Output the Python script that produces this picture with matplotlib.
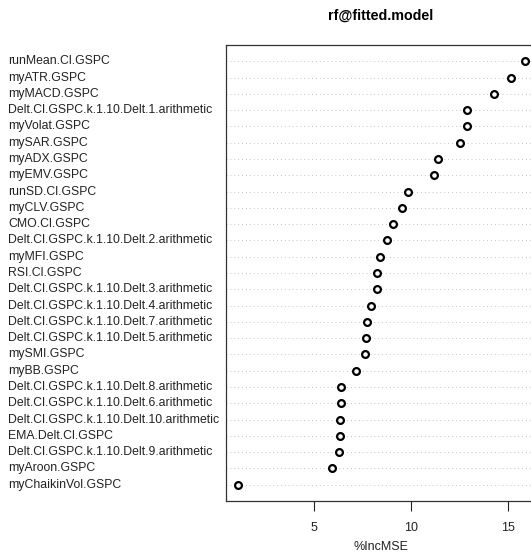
import numpy as np
import matplotlib.pyplot as plt
import matplotlib.transforms as mtransforms

plt.rcParams['font.family'] = ['Liberation Sans', 'DejaVu Sans']

# variables, ordered from most to least important (top to bottom)
variables = [
    'runMean.Cl.GSPC', 'myATR.GSPC', 'myMACD.GSPC',
    'Delt.Cl.GSPC.k.1.10.Delt.1.arithmetic', 'myVolat.GSPC', 'mySAR.GSPC',
    'myADX.GSPC', 'myEMV.GSPC', 'runSD.Cl.GSPC', 'myCLV.GSPC', 'CMO.Cl.GSPC',
    'Delt.Cl.GSPC.k.1.10.Delt.2.arithmetic', 'myMFI.GSPC', 'RSI.Cl.GSPC',
    'Delt.Cl.GSPC.k.1.10.Delt.3.arithmetic', 'Delt.Cl.GSPC.k.1.10.Delt.4.arithmetic',
    'Delt.Cl.GSPC.k.1.10.Delt.7.arithmetic', 'Delt.Cl.GSPC.k.1.10.Delt.5.arithmetic',
    'mySMI.GSPC', 'myBB.GSPC', 'Delt.Cl.GSPC.k.1.10.Delt.8.arithmetic',
    'Delt.Cl.GSPC.k.1.10.Delt.6.arithmetic', 'Delt.Cl.GSPC.k.1.10.Delt.10.arithmetic',
    'EMA.Delt.Cl.GSPC', 'Delt.Cl.GSPC.k.1.10.Delt.9.arithmetic', 'myAroon.GSPC',
    'myChaikinVol.GSPC',
]
inc_mse = [15.88, 15.18, 14.28, 12.90, 12.90, 12.52, 11.42, 11.21, 9.86, 9.56,
           9.08, 8.77, 8.41, 8.26, 8.26, 7.95, 7.74, 7.69, 7.64, 7.17, 6.40,
           6.40, 6.33, 6.33, 6.29, 5.89, 1.06]
x_ticks = [5, 10, 15]

W, H = 531, 557
fig = plt.figure(figsize=(W / 100, H / 100), dpi=100)
# right side of the frame runs off the picture, as in the original
ax = fig.add_axes([226 / W, 1 - 501 / H, 310 / W, (501 - 45) / H])

n = len(variables)
ypos = np.arange(n, 0, -1)

for y in ypos:
    ax.axhline(y, color='#c4c4c4', linestyle=(0, (1, 3)), linewidth=0.7, zorder=1)
ax.scatter(inc_mse, ypos, s=24, facecolors='white', edgecolors='black',
           linewidths=1.6, zorder=3)

ax.set_xlim(0.43, 16.47)
ax.set_ylim(0, n + 1)
ax.set_yticks([])
ax.set_xticks(x_ticks)
ax.tick_params(axis='x', length=7, width=0.8, pad=8, labelsize=9, colors='#222222')
for side in ['top', 'bottom', 'left', 'right']:
    ax.spines[side].set_color('#333333')
    ax.spines[side].set_linewidth(0.9)

# left-aligned row labels
trans = mtransforms.blended_transform_factory(fig.transFigure, ax.transData)
for name, y in zip(variables, ypos):
    ax.text(8 / W, y, name, transform=trans, ha='left', va='center',
            fontsize=8.8, color='#222222', clip_on=False)

ax.set_xlabel('%IncMSE', fontsize=9, labelpad=5, color='#222222')
fig.text(381 / W, 1 - 16 / H, 'rf@fitted.model', ha='center', va='center',
         fontsize=10.3, fontweight='bold')

fig.savefig('out.png', dpi=100)
